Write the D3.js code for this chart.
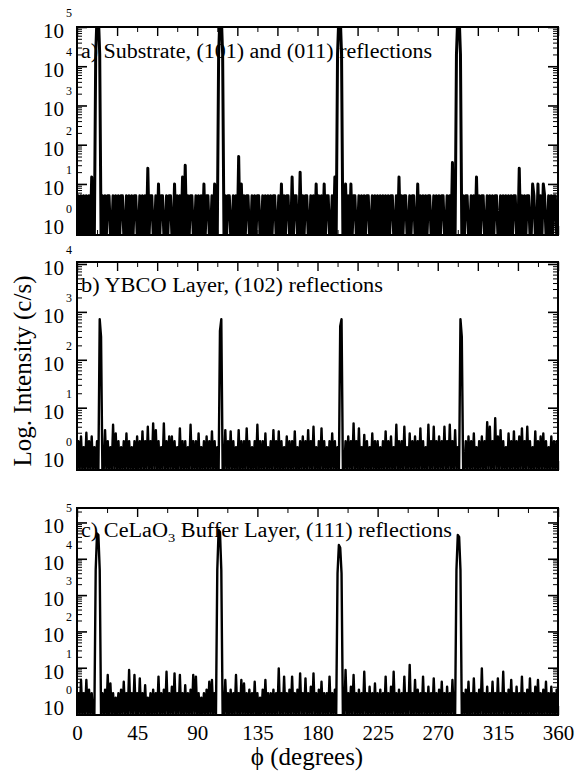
<!DOCTYPE html>
<html>
<head>
<meta charset="utf-8">
<script src="https://cdn.jsdelivr.net/npm/d3@7.9.0/dist/d3.min.js"></script>
<style>
  body { margin: 0; background: #fff; }
  svg { display: block; }
  svg text { font-family: 'Liberation Serif', 'Times New Roman', Times, serif; fill: #000; }
</style>
</head>
<body>
<div id="chart"></div>
<script>
// phi scan, one reading per degree
const phi = d3.range(0, 361);
const phiTicks = [0, 45, 90, 135, 180, 225, 270, 315, 360];

// a) substrate (101)/(011), c/s
const substrateCounts = [
  0,5,0,5,0,5,0,5,0,5,0,15,0,0,20000,200000,200000,20000,0,5,
  0,5,0,5,5,0,0,5,0,5,0,5,0,5,5,0,0,5,0,5,
  0,5,0,5,5,0,0,5,0,5,0,5,0,25,0,5,5,0,0,5,
  0,10,0,5,5,0,0,5,0,5,5,0,0,10,0,5,0,5,0,15,
  0,30,0,5,0,5,5,0,0,5,0,5,0,5,0,10,0,5,5,0,
  0,5,0,10,0,0,20000,200000,200000,20000,0,5,0,5,5,0,0,5,0,5,
  0,50,0,10,0,5,0,5,5,0,0,5,0,5,0,5,5,0,0,5,
  0,5,0,5,0,5,0,5,5,0,0,5,0,10,0,5,0,5,5,0,
  0,15,0,5,5,0,0,20,0,5,0,5,5,0,0,5,0,5,0,10,
  0,5,0,5,0,10,0,5,5,0,0,5,0,15,0,20000,200000,200000,20000,0,
  0,10,0,5,0,10,0,5,5,0,0,5,0,5,0,5,0,5,5,0,
  0,5,0,5,0,5,0,5,0,5,0,5,0,5,0,5,5,0,0,5,
  0,15,0,5,0,5,5,0,0,5,0,5,5,0,0,10,0,5,0,5,
  0,5,0,5,5,0,0,5,0,5,0,5,0,5,5,0,0,5,0,5,
  0,35,0,0,20000,200000,200000,20000,0,5,0,5,5,0,0,5,0,5,0,15,
  0,5,0,5,5,0,0,5,0,5,0,5,0,5,5,0,0,5,0,5,
  0,5,0,5,0,5,0,5,5,0,0,25,0,5,0,5,0,5,5,0,
  0,10,5,0,0,10,0,5,0,10,5,0,0,5,0,5,0,5,5,0,
  0
];

// b) YBCO (102), c/s
const ybcoCounts = [
  0,2,0,2.5,0,1.5,0,3,0,2,0,2.5,0,1.5,0,2,0,700,300,0,
  0,3.4,0,2,0,1.5,0,4.4,0,2.9,0,2,0,1.5,0,2,0,2.9,0,2,
  0,1.5,0,2,0,2.5,0,2,0,3.2,0,2,0,4,0,2,0,4.7,0,3.4,
  0,2,0,1.5,0,4.7,0,2,0,2.5,0,2.5,0,2,0,1.5,0,3.7,0,2,
  0,2,0,1.5,0,4.4,0,2,0,2,0,2.9,0,1.5,0,2,0,2.5,0,2,
  0,3.2,0,2,0,1.5,0,400,700,0,0,3.4,0,2,0,3.2,0,2,0,1.5,
  0,3.4,0,2,0,2,0,3.7,0,2,0,1.5,0,2,0,4.4,0,2,0,2,
  0,2.9,0,1.5,0,2,0,3.4,0,2,0,3.2,0,2,0,1.5,0,2.5,0,2,
  0,2,0,3.2,0,1.5,0,2,0,2.5,0,2,0,3.4,0,2,0,4,0,1.5,
  0,2,0,3.7,0,2,0,1.5,0,2,0,2.9,0,2,0,1.5,0,500,700,0,
  0,2,0,2.5,0,2,0,4.7,0,2,0,3.7,0,1.5,0,2.7,0,2,0,1.5,
  0,2.9,0,2,0,2,0,1.5,0,2,0,3.2,0,2,0,2.5,0,1.5,0,4.4,
  0,2,0,2,0,4,0,1.5,0,2.9,0,2,0,2.5,0,2,0,3.7,0,2,
  0,1.5,0,4.4,0,2,0,4,0,2,0,2.5,0,2,0,4,0,2,0,4.4,
  0,2,0,3.4,0,1.5,0,700,300,0,0,2,0,2.5,0,2,0,2.9,0,1.5,
  0,2,0,2.5,0,2,0,5,0,4,0,2,0,6,0,2.5,0,3.4,0,2,
  0,1.5,0,2.9,0,2,0,3.2,0,2,0,2.5,0,3.7,0,2,0,4,0,2,
  0,1.5,0,3.2,0,2,0,2.5,0,2.9,0,2,0,1.5,0,2.5,0,2,0,2,
  0
];

// c) buffer layer (111), c/s
const bufferCounts = [
  0,2,0,4.6,0,2,0,4.6,0,2.5,0,2,0,0,5000,50000,45000,5000,0,2,
  0,2.5,0,6.3,0,3.7,0,2,0,1.5,0,2,0,2.5,0,4.1,0,2,0,8.7,
  0,2,0,6.3,0,2,0,5.1,0,2,0,3.3,0,1.5,0,2,0,2.5,0,2,
  0,5.7,0,2,0,2.5,0,7.8,0,2,0,3,0,7,0,2,0,6.3,0,2,
  0,3.3,0,2,0,2.5,0,6.3,0,5.7,0,2,0,1.5,0,2,0,2.5,0,4.1,
  0,4.6,0,2,0,5000,62000,55000,5000,0,0,4.6,0,2,0,2.5,0,2,0,6.3,
  0,2,0,4.6,0,3.7,0,2,0,2.5,0,2,0,4.1,0,2,0,1.5,0,2.5,
  0,4.6,0,2,0,2,0,2.5,0,2,0,9.6,0,2,0,5.7,0,2,0,2.5,
  0,5.7,0,2,0,2.5,0,7,0,2,0,5.1,0,2,0,3,0,7,0,2,
  0,2.5,0,4.1,0,2,0,2,0,5.7,0,2,0,2.5,0,4000,24000,20000,4000,0,
  0,8.7,0,2,0,3,0,6.3,0,2,0,2.5,0,2,0,7.8,0,2,0,3,
  0,2,0,3.7,0,2,0,2.5,0,2,0,5.7,0,2,0,3,0,7.8,0,2,
  0,2.5,0,2,0,5.7,0,2,0,12,0,2,0,4.6,0,2.5,0,2,0,5.7,
  0,2,0,3,0,2,0,5.1,0,2,0,2.5,0,4.1,0,2,0,3,0,2,
  0,4.6,0,0,5000,45000,40000,5000,0,2,0,2.5,0,4.1,0,2,0,5.1,0,2,
  0,2.5,0,9.6,0,2,0,3,0,2,0,4.1,0,2,0,5.1,0,2,0,7.8,
  0,2,0,2.5,0,4.6,0,2,0,3,0,2,0,5.7,0,2,0,2.5,0,5.1,
  0,2,0,3,0,4.6,0,2,0,2.5,0,4.1,0,2,0,3,0,2,0,2.5,
  0
];

// title pieces: [text, isSubscript]
const substrateTitle = [['a) Substrate, (101) and (011) reflections', false]];
const ybcoTitle = [['b) YBCO Layer, (102) reflections', false]];
const bufferTitle = [['c) CeLaO', false], ['3', true], [' Buffer Layer, (111) reflections', false]];

const yDomainA = [0.5, 1e5];
const yDomainB = [0.5, 1.1e4];
const yDomainC = [0.5, 2.5e5];

const serif = "'Liberation Serif', 'Times New Roman', Times, serif";
const width = 579;
const height = 775;
const plotLeft = 77;
const plotRight = 558;

const panels = [
  { counts: substrateCounts, title: substrateTitle, domain: yDomainA, top: 27, bottom: 235,
    minorStep: 15, majorStep: 30, titleY: 58, titleW: 351, xLabels: false, lineW: 3 },
  { counts: ybcoCounts, title: ybcoTitle, domain: yDomainB, top: 262, bottom: 470,
    minorStep: 15, majorStep: 30, titleY: 292, titleW: 302, xLabels: false, lineW: 2.4 },
  { counts: bufferCounts, title: bufferTitle, domain: yDomainC, top: 508, bottom: 715,
    minorStep: 22.5, majorStep: 45, titleY: 537, titleW: 371, xLabels: true, lineW: 2.4 },
];

const x = d3.scaleLinear().domain([0, 360]).range([plotLeft, plotRight]);

const svg = d3
  .select('#chart')
  .append('svg')
  .attr('width', width)
  .attr('height', height)
  .attr('viewBox', `0 0 ${width} ${height}`);

const isMajor = (t) => Math.abs(Math.log10(t) - Math.round(Math.log10(t))) < 1e-9;

function stripDomain(g) {
  g.select('.domain').remove();
}

function renderPanel(p, i) {
  const y = d3.scaleLog().domain(p.domain).range([p.bottom, p.top]);
  const g = svg.append('g').attr('class', `panel-${i}`);

  const clipId = `clip-${i}`;
  svg
    .append('clipPath')
    .attr('id', clipId)
    .append('rect')
    .attr('x', plotLeft)
    .attr('y', p.top)
    .attr('width', plotRight - plotLeft)
    .attr('height', p.bottom - p.top);

  // zero counts fall to the bottom of the log axis
  const line = d3
    .line()
    .x((d, j) => x(phi[j]))
    .y((d) => y(Math.max(d, p.domain[0])));

  g.append('path')
    .datum(p.counts)
    .attr('clip-path', `url(#${clipId})`)
    .attr('fill', 'none')
    .attr('stroke', '#000')
    .attr('stroke-width', p.lineW)
    .attr('stroke-linejoin', 'round')
    .attr('d', line);

  const allTicks = y.ticks();
  const minorY = allTicks.filter((t) => !isMajor(t));
  const majorY = allTicks.filter(isMajor);

  // log ticks, pointing in, on both sides
  g.append('g')
    .attr('transform', `translate(${plotLeft},0)`)
    .call(d3.axisLeft(y).tickValues(minorY).tickSize(-5).tickFormat(''))
    .call(stripDomain);
  g.append('g')
    .attr('transform', `translate(${plotLeft},0)`)
    .call(d3.axisLeft(y).tickValues(majorY).tickSize(-10).tickFormat(''))
    .call(stripDomain)
    .selectAll('line')
    .attr('stroke-width', 1.6);
  g.append('g')
    .attr('transform', `translate(${plotRight},0)`)
    .call(d3.axisRight(y).tickValues(minorY).tickSize(-5).tickFormat(''))
    .call(stripDomain);
  g.append('g')
    .attr('transform', `translate(${plotRight},0)`)
    .call(d3.axisRight(y).tickValues(majorY).tickSize(-10).tickFormat(''))
    .call(stripDomain)
    .selectAll('line')
    .attr('stroke-width', 1.6);

  const minorX = d3.range(0, 360.001, p.minorStep).filter((v) => v % p.majorStep !== 0);
  const majorX = d3.range(0, 360.001, p.majorStep);

  g.append('g')
    .attr('transform', `translate(0,${p.top})`)
    .call(d3.axisTop(x).tickValues(minorX).tickSize(-5).tickFormat(''))
    .call(stripDomain);
  g.append('g')
    .attr('transform', `translate(0,${p.top})`)
    .call(d3.axisTop(x).tickValues(majorX).tickSize(-9).tickFormat(''))
    .call(stripDomain)
    .selectAll('line')
    .attr('stroke-width', 1.4);
  g.append('g')
    .attr('transform', `translate(0,${p.bottom})`)
    .call(d3.axisBottom(x).tickValues(minorX).tickSize(-5).tickFormat(''))
    .call(stripDomain);

  const bottomAxis = g
    .append('g')
    .attr('transform', `translate(0,${p.bottom})`)
    .call(
      d3
        .axisBottom(x)
        .tickValues(p.xLabels ? phiTicks : majorX)
        .tickSize(-9)
        .tickPadding(10)
        .tickFormat(p.xLabels ? d3.format('d') : ''),
    )
    .call(stripDomain)
    .attr('font-family', serif);
  bottomAxis.selectAll('line').attr('stroke-width', 1.4);
  bottomAxis
    .selectAll('text')
    .attr('font-size', 21)
    .attr('font-family', serif)
    .attr('fill', '#000');

  // frame
  g.append('rect')
    .attr('x', plotLeft)
    .attr('y', p.top)
    .attr('width', plotRight - plotLeft)
    .attr('height', p.bottom - p.top)
    .attr('fill', 'none')
    .attr('stroke', '#000')
    .attr('stroke-width', 2);

  // 10^n labels
  const labels = g
    .append('g')
    .selectAll('text')
    .data(majorY.filter((t) => t >= 1))
    .join('text')
    .attr('x', 43)
    .attr('y', (d) => y(d) + 11)
    .attr('font-family', serif)
    .attr('font-size', 21)
    .attr('fill', '#000');
  labels.append('tspan').attr('fill', '#000').text('10');
  labels
    .append('tspan')
    .attr('fill', '#000')
    .attr('font-size', 12)
    .attr('dx', 2)
    .attr('dy', -21)
    .text((d) => Math.round(Math.log10(d)));

  // panel caption
  const title = g
    .append('text')
    .attr('x', 81)
    .attr('y', p.titleY)
    .attr('font-family', serif)
    .attr('font-size', 20)
    .attr('fill', '#000')
    .attr('textLength', p.titleW)
    .attr('lengthAdjust', 'spacingAndGlyphs');
  p.title.forEach(([txt, sub]) => {
    const ts = title.append('tspan').text(txt);
    if (sub) ts.attr('font-size', 13).attr('dy', 5);
    else if (title.selectAll('tspan').size() > 1) ts.attr('dy', -5);
  });
}

panels.forEach(renderPanel);

svg
  .append('text')
  .attr('transform', 'translate(22,371) rotate(-90)')
  .attr('text-anchor', 'middle')
  .attr('dominant-baseline', 'central')
  .attr('font-family', serif)
  .attr('font-size', 25)
  .attr('fill', '#000')
  .text('Log. Intensity (c/s)');

svg
  .append('text')
  .attr('x', 307)
  .attr('y', 765)
  .attr('text-anchor', 'middle')
  .attr('font-family', serif)
  .attr('font-size', 25)
  .attr('fill', '#000')
  .text('\u03D5 (degrees)');
</script>
</body>
</html>
